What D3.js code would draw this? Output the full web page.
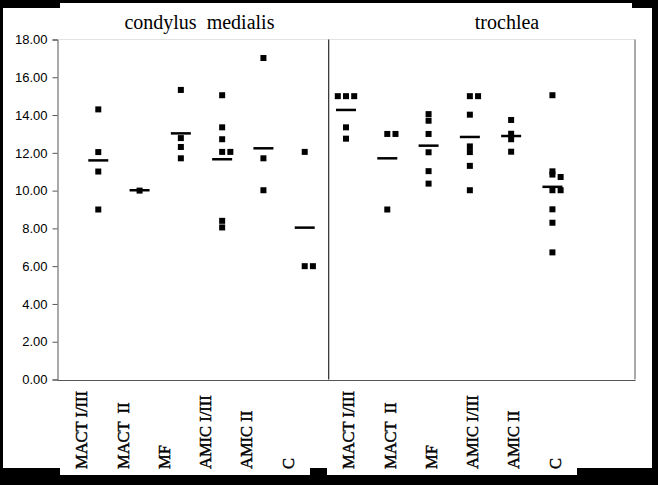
<!DOCTYPE html>
<html>
<head>
<meta charset="utf-8">
<script src="https://cdn.jsdelivr.net/npm/d3@7"></script>
<style>
  html, body { margin: 0; padding: 0; background: #000; }
  svg { display: block; }
</style>
</head>
<body>
<svg id="chart" width="658" height="485"></svg>
<script>
// ---- data ----
const categories = ["MACT I/III", "MACT  II", "MF", "AMIC I/III", "AMIC II", "C"];
const panelTitles = ["condylus  medialis", "trochlea"];
const medialisValues = [
  [14.3, 12.04, 11.01, 9.0],
  [10.0],
  [15.33, 12.78, 12.31, 11.71],
  [15.05, 13.35, 12.72, 12.05, 12.05, 8.4, 8.05],
  [17.02, 11.71, 10.02],
  [12.05, 6.0, 6.0]
];
const medialisMeans = [11.6, 10.02, 13.03, 11.66, 12.24, 8.04];
const trochleaValues = [
  [15.0, 15.0, 15.0, 13.35, 12.75],
  [13.0, 13.0, 9.0],
  [14.05, 13.7, 13.0, 12.03, 11.03, 10.37],
  [15.0, 15.0, 14.02, 12.34, 12.04, 11.31, 10.02],
  [13.74, 13.01, 12.72, 12.06],
  [15.05, 11.02, 10.85, 10.72, 10.02, 10.02, 9.01, 8.3, 6.73]
];
const trochleaMeans = [14.27, 11.71, 12.38, 12.84, 12.89, 10.2];
const yTicks = [0, 2, 4, 6, 8, 10, 12, 14, 16, 18];

// ---- layout ----
const svg = d3.select("#chart");
const plot = { left: 57, right: 635, top: 39.5, bottom: 379.5 };
const x = d3.scaleLinear().domain([0, 14]).range([plot.left, plot.right]);
const y = d3.scaleLinear().domain([0, 18]).range([plot.bottom, plot.top]);
const SQ = 6, SLOT = 8.2, MEANW = 20;

// background white areas (image framing)
const bg = svg.append("g").attr("fill", "#fff");
bg.append("rect").attr("x", 3).attr("y", 8).attr("width", 649).attr("height", 460);
bg.append("rect").attr("x", 60).attr("y", 3).attr("width", 572).attr("height", 10);
bg.append("rect").attr("x", 60).attr("y", 460).attr("width", 250).attr("height", 15);
bg.append("rect").attr("x", 327).attr("y", 460).attr("width", 250).attr("height", 15);

// plot frame
svg.append("line").attr("x1", plot.left).attr("x2", plot.right)
  .attr("y1", plot.top).attr("y2", plot.top).attr("stroke", "#e2e2e2");
svg.append("line").attr("x1", plot.right).attr("x2", plot.right)
  .attr("y1", plot.top).attr("y2", plot.bottom).attr("stroke", "#555");

// y axis
const yAxis = d3.axisLeft(y).tickValues(yTicks).tickSize(5).tickPadding(5)
  .tickFormat(d => d3.format(".2f")(d));
const gy = svg.append("g").attr("transform", `translate(${plot.left + 0.5},0)`).call(yAxis);
gy.select(".domain").attr("stroke", "#555");
gy.selectAll(".tick line").attr("stroke", "#555");
gy.selectAll(".tick text").attr("font-family", "Liberation Sans, Arial, sans-serif")
  .attr("font-size", 13).attr("fill", "#000");

// x axis baseline
const xAxis = d3.axisBottom(x).tickValues([]).tickSizeOuter(0);
const gx = svg.append("g").attr("transform", `translate(0,${plot.bottom + 0.5})`).call(xAxis);
gx.select(".domain").attr("stroke", "#555");

// divider
svg.append("line").attr("x1", x(6.57) + 0.5).attr("x2", x(6.57) + 0.5)
  .attr("y1", plot.top).attr("y2", plot.bottom).attr("stroke", "#000");

// panel titles
const titlePos = [3.45, 10.9];
panelTitles.forEach((t, p) => {
  svg.append("text").attr("x", x(titlePos[p])).attr("y", 29)
    .attr("text-anchor", "middle")
    .attr("font-family", "Liberation Serif, Times New Roman, serif")
    .attr("font-size", 20).attr("fill", "#000")
    .style("white-space", "pre").text(t);
});

// place points with simple horizontal dodge
function layout(values) {
  const placed = [];
  const sorted = values.slice().sort((a, b) => b - a);
  const slots = [0, 1, -1, 2, -2];
  sorted.forEach(v => {
    const py = y(v);
    for (const s of slots) {
      const clash = placed.some(q => q.slot === s && Math.abs(q.py - py) < 3);
      if (!clash) { placed.push({ v, py, slot: s }); break; }
    }
  });
  return placed;
}

const panels = [
  { values: medialisValues, means: medialisMeans, base: 1, labelShift: -0.4 },
  { values: trochleaValues, means: trochleaMeans, base: 7, labelShift: 0.07 }
];

const marks = svg.append("g");
panels.forEach(panel => {
  panel.values.forEach((vals, i) => {
    const cx = x(panel.base + i);
    layout(vals).forEach(pt => {
      marks.append("rect")
        .attr("x", cx + pt.slot * SLOT - SQ / 2)
        .attr("y", pt.py - SQ / 2)
        .attr("width", SQ).attr("height", SQ)
        .attr("fill", "#000");
    });
    marks.append("line")
      .attr("x1", cx - MEANW / 2).attr("x2", cx + MEANW / 2)
      .attr("y1", y(panel.means[i])).attr("y2", y(panel.means[i]))
      .attr("stroke", "#000").attr("stroke-width", 2.5);
  });
  // category labels
  categories.forEach((c, i) => {
    const lx = x(panel.base + i + panel.labelShift);
    svg.append("text")
      .attr("transform", `translate(${lx},469) rotate(-90)`)
      .attr("dy", "0.33em")
      .attr("text-anchor", "start")
      .attr("font-family", "Liberation Serif, Times New Roman, serif")
      .attr("font-size", 16.5).attr("fill", "#000")
      .attr("stroke", "#000").attr("stroke-width", 0.45)
      .style("white-space", "pre").text(c);
  });
});
</script>
</body>
</html>
